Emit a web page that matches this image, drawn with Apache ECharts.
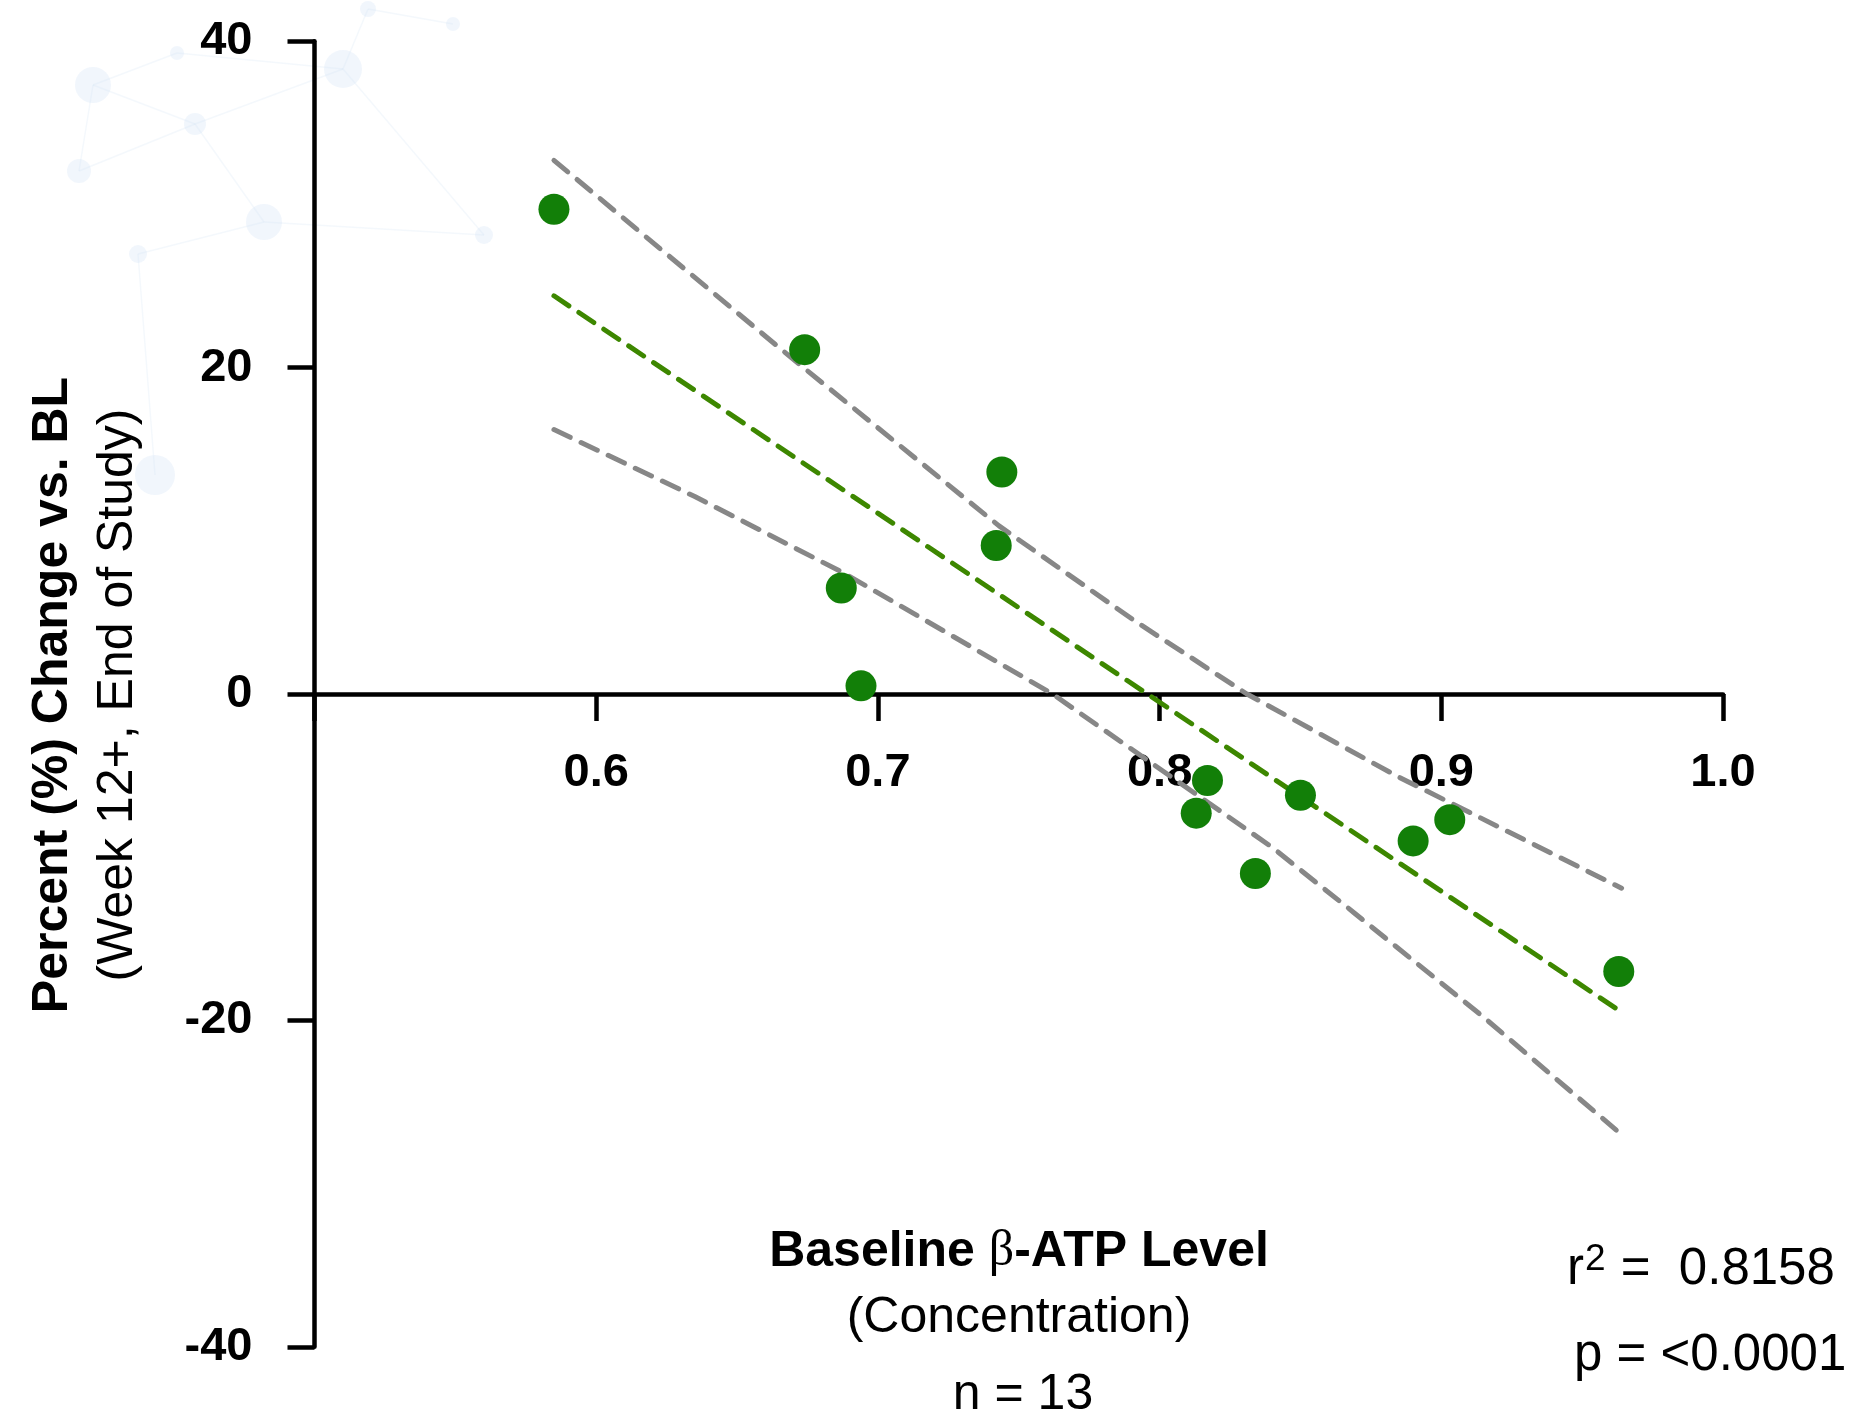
<!DOCTYPE html>
<html>
<head>
<meta charset="utf-8">
<title>Baseline β-ATP Level vs. Percent Change</title>
<script src="https://cdn.jsdelivr.net/npm/echarts@6/dist/echarts.min.js"></script>
<style>
  html, body { margin: 0; padding: 0; background: #ffffff; }
  #chart { width: 1854px; height: 1418px; }
</style>
</head>
<body>
<div id="chart"></div>
<script>
// Individual subjects: baseline β-ATP concentration vs. % change from baseline
const atpLevel = [0.585, 0.674, 0.744, 0.742, 0.687, 0.694, 0.817, 0.813, 0.834, 0.850, 0.890, 0.903, 0.963];
const pctChange = [29.7, 21.1, 13.6, 9.1, 6.5, 0.5, -5.3, -7.3, -11.0, -6.2, -9.0, -7.7, -17.0];

// Regression line end points
const fitX = [0.585, 0.964];
const fitY = [24.4, -19.5];

// 95% confidence band (upper / lower)
const upperX = [0.585, 0.670, 0.743, 0.791, 0.831, 0.885, 0.964];
const upperY = [32.7, 20.5, 10.3, 4.5, 0.0, -5.1, -11.9];
const lowerX = [0.585, 0.635, 0.688, 0.743, 0.762, 0.840, 0.869, 0.915, 0.964];
const lowerY = [16.2, 12.1, 7.4, 1.9, 0.0, -9.4, -13.4, -19.8, -27.0];

// Axis ticks
const xTicks = [0.6, 0.7, 0.8, 0.9, 1.0];
const yTicks = [-40, -20, 0, 20, 40];

const FONT = 'Arial, "Liberation Sans", Helvetica, sans-serif';
const pairs = (xs, ys) => xs.map((x, i) => [x, ys[i]]);

// plot area (px)
const GRID = { left: 314.5, right: 131, top: 41.2, bottom: 71.2 };
const PLOT_H = 1418 - GRID.top - GRID.bottom;
// the x axis sits on y = 0, i.e. halfway up the y range [-40, 40]
const X_AXIS_OFFSET = -PLOT_H * (0 - yTicks[0]) / (yTicks[yTicks.length - 1] - yTicks[0]);

// faint network decoration in the upper-left background
const nodes = [
  [93, 85, 18], [343, 69, 19], [195, 124, 11], [264, 222, 18], [79, 171, 12],
  [138, 254, 9], [484, 235, 9], [155, 475, 20], [368, 9, 8], [453, 24, 7], [177, 53, 7]
];
const links = [[0, 2], [2, 1], [2, 3], [3, 6], [1, 6], [3, 5], [4, 2], [0, 4], [1, 8], [8, 9], [10, 0], [10, 1], [5, 7]];

const bg = [];
links.forEach(([a, b]) => {
  bg.push({
    type: 'line', silent: true, z: -10,
    shape: { x1: nodes[a][0], y1: nodes[a][1], x2: nodes[b][0], y2: nodes[b][1] },
    style: { stroke: 'rgba(205,222,240,0.22)', lineWidth: 1.5 }
  });
});
nodes.forEach(([cx, cy, r]) => {
  bg.push({
    type: 'circle', silent: true, z: -10,
    shape: { cx, cy, r },
    style: { fill: 'rgba(210,228,245,0.32)' }
  });
});

const texts = [
  {
    type: 'text', x: 53, y: 695, rotation: Math.PI / 2,
    style: { text: 'Percent (%) Change vs. BL', font: 'bold 50px ' + FONT, fill: '#000',
             align: 'center', verticalAlign: 'middle' }
  },
  {
    type: 'text', x: 118, y: 695, rotation: Math.PI / 2,
    style: { text: '(Week 12+, End of Study)', font: '50px ' + FONT, fill: '#000',
             align: 'center', verticalAlign: 'middle' }
  },
  {
    type: 'text', x: 1019, y: 1252,
    style: {
      text: '{b|Baseline }{g|β}{b|-ATP Level}',
      align: 'center', verticalAlign: 'middle',
      rich: {
        b: { font: 'bold 50px ' + FONT, fill: '#000' },
        g: { font: '50px "Liberation Serif", "DejaVu Serif", serif', fill: '#000' }
      }
    }
  },
  {
    type: 'text', x: 1019, y: 1318,
    style: { text: '(Concentration)', font: '50px ' + FONT, fill: '#000',
             align: 'center', verticalAlign: 'middle' }
  },
  {
    type: 'text', x: 1023, y: 1395,
    style: { text: 'n = 13', font: '50px ' + FONT, fill: '#000',
             align: 'center', verticalAlign: 'middle' }
  },
  {
    type: 'text', x: 1567, y: 1270,
    style: {
      text: '{t|r}{s|2}{t| =  0.8158}',
      align: 'left', verticalAlign: 'middle',
      rich: {
        t: { font: '51px ' + FONT, fill: '#000', lineHeight: 58 },
        s: { font: '37px ' + FONT, fill: '#000', verticalAlign: 'top', lineHeight: 58, padding: [0, 1, 20, 1] }
      }
    }
  },
  {
    type: 'text', x: 1574, y: 1356,
    style: { text: 'p = <0.0001', font: '51px ' + FONT, fill: '#000',
             align: 'left', verticalAlign: 'middle' }
  }
];

const chart = echarts.init(document.getElementById('chart'), null, { renderer: 'canvas' });

const axisLine = { onZero: false, lineStyle: { color: '#000', width: 4.5 } };
const axisTick = { show: true, inside: false, length: 27, lineStyle: { color: '#000', width: 4.5 } };
const dash = [18, 12];

chart.setOption({
  backgroundColor: '#ffffff',
  animation: false,
  grid: {
    left: GRID.left, right: GRID.right, top: GRID.top, bottom: GRID.bottom,
    containLabel: false, outerBoundsMode: 'none'
  },
  xAxis: {
    type: 'value',
    position: 'bottom',
    offset: X_AXIS_OFFSET,
    min: 0.5, max: 1.0, interval: 0.1,
    axisLine: axisLine,
    axisTick: axisTick,
    splitLine: { show: false },
    axisLabel: {
      margin: 56,
      color: '#000',
      fontFamily: FONT, fontWeight: 'bold', fontSize: 47,
      formatter: v => {
        const t = xTicks.find(k => Math.abs(k - v) < 1e-6);
        return t === undefined ? '' : t.toFixed(1);
      }
    }
  },
  yAxis: {
    type: 'value',
    min: -40, max: 40, interval: 20,
    axisLine: axisLine,
    axisTick: axisTick,
    splitLine: { show: false },
    axisLabel: {
      margin: 62,
      color: '#000',
      fontFamily: FONT, fontWeight: 'bold', fontSize: 47,
      formatter: v => {
        const t = yTicks.find(k => Math.abs(k - v) < 1e-6);
        return t === undefined ? '' : String(t);
      }
    }
  },
  graphic: { elements: bg.concat(texts) },
  series: [
    {
      name: 'upper 95% CI',
      type: 'line',
      data: pairs(upperX, upperY),
      smooth: false,
      symbol: 'none',
      z: 3,
      lineStyle: { color: '#878787', width: 5, type: dash, cap: 'round', join: 'round' }
    },
    {
      name: 'lower 95% CI',
      type: 'line',
      data: pairs(lowerX, lowerY),
      smooth: false,
      symbol: 'none',
      z: 3,
      lineStyle: { color: '#878787', width: 5, type: dash, cap: 'round', join: 'round' }
    },
    {
      name: 'linear fit',
      type: 'line',
      data: pairs(fitX, fitY),
      symbol: 'none',
      z: 3,
      lineStyle: { color: '#3d8700', width: 5, type: dash, cap: 'round' }
    },
    {
      name: 'subjects',
      type: 'scatter',
      data: pairs(atpLevel, pctChange),
      symbol: 'circle',
      symbolSize: 31,
      z: 5,
      itemStyle: { color: '#127f08', opacity: 1 }
    }
  ]
});
</script>
</body>
</html>
